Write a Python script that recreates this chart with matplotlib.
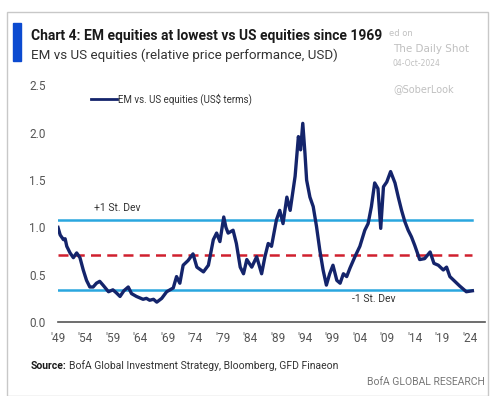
import matplotlib
matplotlib.use("Agg")
import matplotlib.pyplot as plt
import matplotlib.patches as patches

# EM vs US equities, relative price performance
years = [1949.0, 1949.4, 1950.0, 1950.3, 1950.6, 1951.2, 1951.8, 1952.4, 1953.0, 1953.6,
         1954.2, 1954.8, 1955.4, 1956.0, 1956.6, 1957.2, 1958.2, 1959.0, 1959.6,
         1960.3, 1961.0, 1961.8, 1962.4, 1963.3, 1964.5, 1965.1, 1965.7, 1966.4,
         1967.0, 1967.9, 1968.8, 1970.0, 1970.6, 1971.2, 1971.8, 1972.7, 1973.6,
         1974.3, 1975.5, 1976.4, 1977.3, 1977.9, 1978.5, 1979.2, 1979.6, 1980.0, 1980.9,
         1981.5, 1982.2, 1982.8, 1983.4, 1984.3, 1985.2, 1986.1, 1986.7, 1987.3,
         1987.9, 1988.8, 1989.4, 1990.0, 1990.7, 1991.3, 1992.2, 1992.8, 1993.2,
         1993.6, 1994.0, 1994.3, 1994.9, 1995.5, 1996.1, 1996.7, 1997.3, 1997.9,
         1998.5, 1999.1, 1999.8, 2000.4, 2001.0, 2001.6, 2002.2, 2003.1, 2004.0,
         2004.9, 2005.5, 2006.1, 2006.7, 2007.3, 2007.8, 2008.3, 2008.9, 2009.6,
         2010.4, 2011.0, 2011.6, 2012.2, 2012.8, 2013.4, 2014.0, 2014.9, 2015.8,
         2016.8, 2017.5, 2018.3, 2019.2, 2019.8, 2020.4, 2021.3, 2022.2, 2023.4,
         2024.5]
ratio = [1.00, 0.92, 0.87, 0.88, 0.80, 0.73, 0.68, 0.73, 0.68, 0.55,
         0.44, 0.37, 0.37, 0.41, 0.43, 0.39, 0.32, 0.34, 0.31,
         0.27, 0.33, 0.37, 0.30, 0.27, 0.24, 0.25, 0.23, 0.24,
         0.21, 0.25, 0.32, 0.36, 0.48, 0.41, 0.60, 0.65, 0.72,
         0.58, 0.53, 0.60, 0.87, 0.94, 0.85, 1.11, 1.00, 0.94, 0.97,
         0.83, 0.58, 0.51, 0.66, 0.58, 0.69, 0.51, 0.69, 0.83,
         0.80, 1.08, 1.18, 1.04, 1.32, 1.18, 1.54, 1.96, 1.82,
         2.10, 1.78, 1.50, 1.32, 1.22, 1.01, 0.76, 0.55, 0.39,
         0.51, 0.60, 0.44, 0.41, 0.51, 0.48, 0.57, 0.69, 0.80,
         0.97, 1.04, 1.22, 1.47, 1.41, 0.99, 1.43, 1.48, 1.59,
         1.47, 1.32, 1.18, 1.06, 0.97, 0.90, 0.81, 0.66, 0.67,
         0.74, 0.62, 0.60, 0.55, 0.58, 0.48, 0.43, 0.38, 0.32,
         0.33]

plus_sd = 1.08
mean_val = 0.71
minus_sd = 0.34

tick_years = list(range(1949, 2025, 5))
tick_labels = ["'" + str(y)[2:] for y in tick_years]

plt.rcParams['font.family'] = ['Roboto', 'DejaVu Sans']

fig = plt.figure(figsize=(5.02, 3.96), dpi=100)
ax = fig.add_axes([58 / 502, 1 - 322 / 396, (485 - 58) / 502, (322 - 85.5) / 396])

x_end = (2024.5 - 1949) / (2026.8 - 1949)
ax.axhline(plus_sd, xmin=0, xmax=x_end, color='#2aa7df', lw=1.8)
ax.axhline(minus_sd, xmin=0, xmax=x_end, color='#2aa7df', lw=1.8)
ax.axhline(mean_val, xmin=0, xmax=x_end, color='#d0202e', lw=1.8, ls=(0, (4, 2.5)))
ax.plot(years, ratio, color='#14246b', lw=2.4, solid_joinstyle='round')

ax.set_xlim(1949, 2026.8)
ax.set_ylim(0, 2.5)
ax.set_yticks([0, 0.5, 1.0, 1.5, 2.0, 2.5])
ax.set_yticklabels(['0.0', '0.5', '1.0', '1.5', '2.0', '2.5'])
ax.set_xticks(tick_years)
ax.set_xticklabels(tick_labels)
ax.tick_params(length=0, labelsize=8.5, colors='#555555')
ax.tick_params(axis='y', pad=9)
ax.tick_params(axis='x', pad=7)
for s in ['top', 'right', 'left']:
    ax.spines[s].set_visible(False)
ax.spines['bottom'].set_color('#555555')
ax.spines['bottom'].set_linewidth(1.2)

# legend drawn by hand
ax.plot([1955.0, 1959.8], [2.36, 2.36], color='#14246b', lw=2)
ax.text(1960.0, 2.36, 'EM vs. US equities (US$ terms)', fontsize=7, color='#333333',
        va='center')
ax.text(1955.5, 1.15, '+1 St. Dev', fontsize=7.5, color='#333333', va='bottom')
ax.text(2002.5, 0.24, '-1 St. Dev', fontsize=7.5, color='#333333', va='center')

# frame and header
fig.patches.append(patches.Rectangle((7 / 502, 0), (488 - 7) / 502, 1 - 12 / 396,
                                     transform=fig.transFigure, fill=False,
                                     edgecolor='#c8c8c8', lw=1))
fig.patches.append(patches.Rectangle((13 / 502, 1 - 61 / 396), 8 / 502, 38 / 396,
                                     transform=fig.transFigure, color='#0b4ad0'))
fig.text(31 / 502, 1 - 36 / 396, 'Chart 4: EM equities at lowest vs US equities since 1969',
         fontsize=10, fontweight='bold', color='#1a1a1a', va='center')
fig.text(31 / 502, 1 - 55 / 396, 'EM vs US equities (relative price performance, USD)',
         fontsize=9.6, color='#333333', va='center')

fig.text(389 / 502, 1 - 34 / 396, 'ed on', fontsize=6, color='#c0c0c0', va='center',
         family='DejaVu Sans')
fig.text(393 / 502, 1 - 49 / 396, 'The Daily Shot', fontsize=7.5, color='#c0c0c0',
         va='center', family='DejaVu Sans')
fig.text(393 / 502, 1 - 63 / 396, '04-Oct-2024', fontsize=5.5, color='#c0c0c0',
         va='center', family='DejaVu Sans')
fig.text(393 / 502, 1 - 89 / 396, '@SoberLook', fontsize=7, color='#c0c0c0',
         va='center', family='DejaVu Sans')

fig.text(31 / 502, 1 - 366 / 396, 'Source:', fontsize=7.5, fontweight='bold',
         color='#1a1a1a', va='center')
fig.text(69 / 502, 1 - 366 / 396, 'BofA Global Investment Strategy, Bloomberg, GFD Finaeon',
         fontsize=7.5, color='#333333', va='center')
fig.text(485 / 502, 1 - 382 / 396, 'BofA GLOBAL RESEARCH', fontsize=7.5, color='#777777',
         va='center', ha='right')

fig.savefig('out.png', dpi=100)
